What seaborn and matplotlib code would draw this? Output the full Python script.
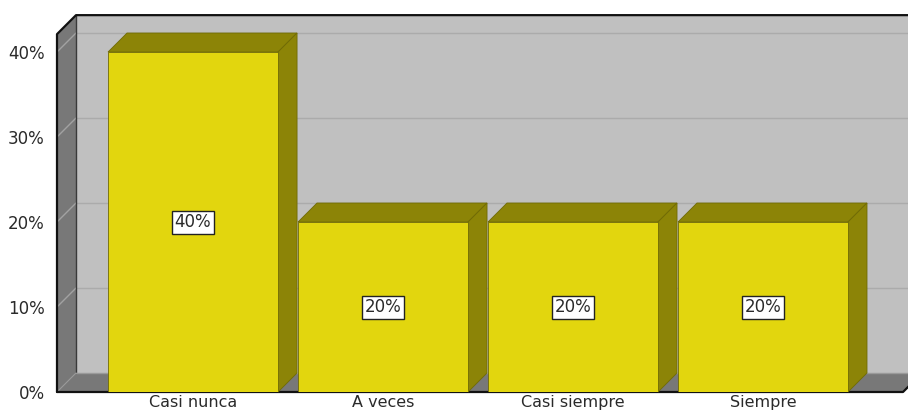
import matplotlib
matplotlib.use("Agg")
import matplotlib.pyplot as plt
from matplotlib.patches import Polygon
import seaborn as sns
import pandas as pd

# Survey answers and their share of responses (%)
categories = ["Casi nunca", "A veces", "Casi siempre", "Siempre"]
percentages = [40, 20, 20, 20]
y_ticks = [0, 10, 20, 30, 40]
y_tick_labels = ["0%", "10%", "20%", "30%", "40%"]

FRONT = "#E2D60E"
SHADE = "#8C8407"
EDGE = "#6F6A05"
WALL = "#C0C0C0"
SIDE_WALL = "#787878"
TEXT = "#2A2A2A"

sns.set_theme(style="white")
plt.rcParams["font.family"] = ["DejaVu Sans"]

fig = plt.figure(figsize=(9.08, 4.16), dpi=100)
W, H = 908, 416
left_px, right_px, top_px, bottom_px = 57, 903, 52, 392
ax = fig.add_axes([left_px / W, (H - bottom_px) / H,
                   (right_px - left_px) / W, (bottom_px - top_px) / H])

df = pd.DataFrame({"categoria": categories, "porcentaje": percentages})
sns.barplot(data=df, x="categoria", y="porcentaje", color=FRONT,
            saturation=1, width=0.895, edgecolor=EDGE, linewidth=0.6,
            ax=ax, zorder=5)

x0, x1 = -0.716, 3.737
ax.set_xlim(x0, x1)
ax.set_ylim(0, 40)

# depth offset of the 3D box, in data units (~19 px each way)
dx = 19 / 190
dy = 19 / 8.5
ytop = 42.1

def poly(pts, fc, ec="none", lw=0, z=1):
    ax.add_patch(Polygon(pts, closed=True, facecolor=fc, edgecolor=ec,
                         linewidth=lw, clip_on=False, zorder=z))

# back wall, side wall and floor
poly([(x0 + dx, dy), (x1 + dx + 1, dy), (x1 + dx + 1, ytop + dy), (x0 + dx, ytop + dy)], WALL, z=0.5)
poly([(x0, 0), (x0 + dx, dy), (x0 + dx, ytop + dy), (x0, ytop)], SIDE_WALL, z=1)
poly([(x0, 0), (x1, 0), (x1 + dx, dy), (x0 + dx, dy)], SIDE_WALL, z=1)

# gridlines on the back wall and the side wall
for v in y_ticks[1:]:
    ax.plot([x0 + dx, x1 + dx + 1], [v + dy, v + dy], color="#ABABAB",
            lw=1, clip_on=False, zorder=0.8)
    ax.plot([x0, x0 + dx], [v, v + dy], color="#A2A2A2", lw=1,
            clip_on=False, zorder=1.2)

# inner and outer edges of the box
ax.plot([x0 + dx, x0 + dx], [dy, ytop + dy], color="#3A3A3A", lw=1, clip_on=False, zorder=1.3)
ax.plot([x0 + dx, x1 + dx], [dy, dy], color="#9A9A9A", lw=1, clip_on=False, zorder=1.3)
ax.plot([x0, x0, x0 + dx, x1 + dx + 1], [0, ytop, ytop + dy, ytop + dy],
        color="#111111", lw=1.6, clip_on=False, zorder=1.4)
ax.plot([x0, x0 + dx], [0, dy], color="#9A9A9A", lw=0.8, clip_on=False, zorder=1.3)
ax.plot([x0, x1, x1 + dx], [0, 0, dy], color="#111111", lw=1.6,
        clip_on=False, zorder=1.4)

# top and side faces of each bar, plus its value label
for p, v in zip(ax.patches, percentages):
    bx, bw, bh = p.get_x(), p.get_width(), p.get_height()
    poly([(bx, bh), (bx + bw, bh), (bx + bw + dx, bh + dy), (bx + dx, bh + dy)],
         SHADE, EDGE, 0.6, z=4)
    poly([(bx + bw, 0), (bx + bw + dx, dy), (bx + bw + dx, bh + dy), (bx + bw, bh)],
         SHADE, EDGE, 0.6, z=4)
    ax.text(bx + bw / 2, bh / 2, f"{v}%", ha="center", va="center",
            fontsize=12, color=TEXT, zorder=7,
            bbox=dict(boxstyle="square,pad=0.15", facecolor="white",
                      edgecolor="#222222", linewidth=1))

ax.set_yticks(y_ticks)
ax.set_yticklabels(y_tick_labels)
ax.tick_params(axis="y", length=0, pad=9, labelsize=12, labelcolor=TEXT)
ax.tick_params(axis="x", length=0, pad=2.5, labelsize=11.5, labelcolor=TEXT)
ax.set_xlabel("")
ax.set_ylabel("")
ax.set_facecolor("none")
ax.grid(False)
for s in ax.spines.values():
    s.set_visible(False)

fig.savefig("out.png", dpi=100)
